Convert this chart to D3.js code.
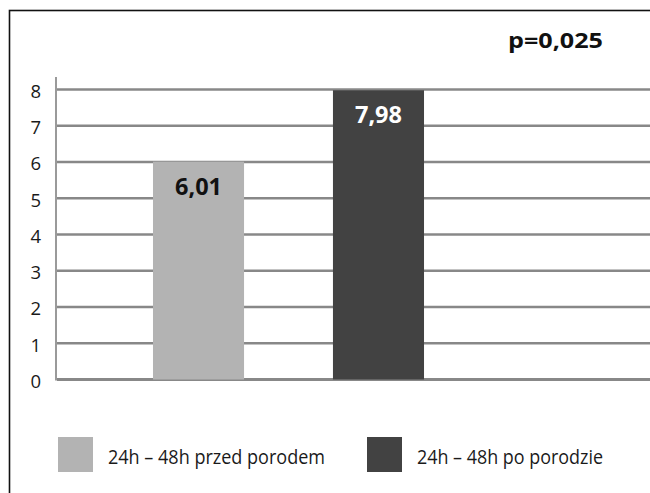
<!DOCTYPE html>
<html>
<head>
<meta charset="utf-8">
<script src="https://cdn.jsdelivr.net/npm/d3@7"></script>
<style>
  html, body { margin: 0; padding: 0; background: #fff; }
  svg { display: block; }
  text { font-family: "Open Sans", "DejaVu Sans", sans-serif; }
</style>
</head>
<body>
<svg id="chart" width="650" height="493"></svg>
<script>
// Data
const categories = ["24h – 48h przed porodem", "24h – 48h po porodzie"];
const values = [6.01, 7.98];
const valueLabels = ["6,01", "7,98"];
const barColors = ["#b3b3b3", "#424242"];
const labelColors = ["#111111", "#ffffff"];
const yTicks = [0, 1, 2, 3, 4, 5, 6, 7, 8];
const pValueText = "p=0,025";

const svg = d3.select("#chart");

// Outer frame (only top and left edges fall inside the page)
svg.append("rect")
  .attr("x", 9.5).attr("y", 10.5)
  .attr("width", 800).attr("height", 600)
  .attr("fill", "none").attr("stroke", "#111").attr("stroke-width", 1.6);

const x = d3.scaleBand()
  .domain(categories)
  .range([63, 514])
  .paddingInner(0.494)
  .paddingOuter(0.5);

const y = d3.scaleLinear()
  .domain([0, 8])
  .range([379.5, 89.5]);

// Horizontal gridlines
svg.append("g")
  .selectAll("line")
  .data(yTicks)
  .join("line")
  .attr("x1", 57).attr("x2", 650)
  .attr("y1", d => y(d)).attr("y2", d => y(d))
  .attr("stroke", "#888")
  .attr("stroke-width", d => d === 0 ? 2.8 : 2.4);

// Vertical axis line
svg.append("line")
  .attr("x1", 56).attr("x2", 56)
  .attr("y1", 77).attr("y2", y(0) + 1)
  .attr("stroke", "#9a9a9a").attr("stroke-width", 2);

// Y tick labels
const yAxis = d3.axisLeft(y).tickValues(yTicks).tickSize(0).tickPadding(0)
  .tickFormat(d3.format("d"));
const gAxis = svg.append("g").attr("transform", "translate(41,0)").call(yAxis);
gAxis.select(".domain").remove();
gAxis.selectAll("text")
  .attr("font-family", "'Open Sans', sans-serif")
  .attr("font-size", 18.5)
  .attr("fill", "#1a1a1a")
  .attr("dy", "0.42em");

// Bars
svg.append("g")
  .selectAll("rect")
  .data(values)
  .join("rect")
  .attr("x", (d, i) => x(categories[i]))
  .attr("width", x.bandwidth())
  .attr("y", d => y(d))
  .attr("height", d => y(0) - y(d))
  .attr("fill", (d, i) => barColors[i]);

// Value labels inside the bars
svg.append("g")
  .selectAll("text")
  .data(values)
  .join("text")
  .attr("x", (d, i) => x(categories[i]) + x.bandwidth() / 2)
  .attr("y", d => y(d) + 33)
  .attr("text-anchor", "middle")
  .attr("font-size", 23.5)
  .attr("font-weight", "bold")
  .attr("fill", (d, i) => labelColors[i])
  .text((d, i) => valueLabels[i]);

// p-value note
svg.append("text")
  .attr("x", 508).attr("y", 48)
  .attr("font-size", 21)
  .attr("font-weight", "bold")
  .attr("fill", "#111")
  .attr("textLength", 95)
  .attr("lengthAdjust", "spacingAndGlyphs")
  .text(pValueText);

// Legend
const legendX = [58, 367];
const legendTextLen = [217, 186];
const legend = svg.append("g")
  .selectAll("g")
  .data(categories)
  .join("g")
  .attr("transform", (d, i) => `translate(${legendX[i]},437)`);
legend.append("rect")
  .attr("width", 35).attr("height", 35)
  .attr("fill", (d, i) => barColors[i]);
legend.append("text")
  .attr("x", 50).attr("y", 27)
  .attr("font-size", 20)
  .attr("fill", "#1a1a1a")
  .attr("textLength", (d, i) => legendTextLen[i])
  .attr("lengthAdjust", "spacingAndGlyphs")
  .text(d => d);
</script>
</body>
</html>
